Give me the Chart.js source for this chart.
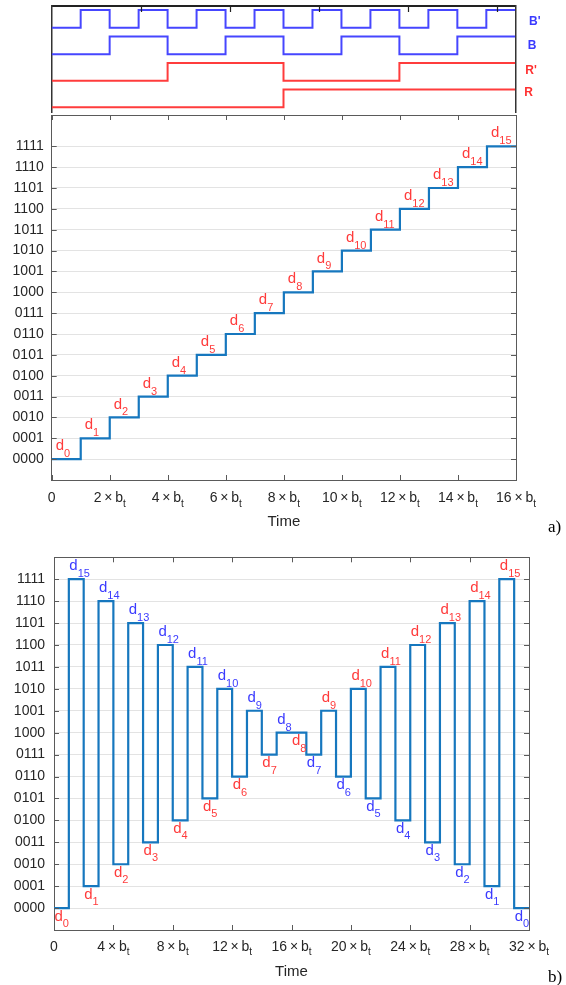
<!DOCTYPE html>
<html>
<head>
<meta charset="utf-8">
<script src="https://cdn.jsdelivr.net/npm/chart.js@4/dist/chart.umd.min.js"></script>
<style>
  body { margin: 0; width: 566px; height: 985px; position: relative; overflow: hidden; background: #fff; }
  canvas { position: absolute; left: 0; }
  .sig { position: absolute; font: bold 12px "Liberation Sans", Arial, sans-serif; line-height: 16px; transform: translateY(-50%); }
  .tag { position: absolute; left: 548px; font: 17px "Liberation Serif", "Times New Roman", serif; line-height: 20px; transform: translateY(-50%); color: #000; }
</style>
</head>
<body>
<canvas id="timing" width="566" height="115" style="top:0"></canvas>
<canvas id="chartA" width="566" height="430" style="top:112px"></canvas>
<canvas id="chartB" width="566" height="445" style="top:540px"></canvas>

<div class="sig" style="left:529px;top:20.7px;color:#3a3aff">B'</div>
<div class="sig" style="left:527.7px;top:45px;color:#3a3aff">B</div>
<div class="sig" style="left:525.3px;top:70px;color:#ff3030">R'</div>
<div class="sig" style="left:524.3px;top:91.7px;color:#ff3030">R</div>
<div class="tag" style="top:527.3px">a)</div>
<div class="tag" style="top:976.7px">b)</div>

<script>
// clock signals, level in each of the 16 b_t intervals
const bitBp = [0, 1, 0, 1, 0, 1, 0, 1, 0, 1, 0, 1, 0, 1, 0, 1];
const bitB  = [0, 0, 1, 1, 0, 0, 1, 1, 0, 0, 1, 1, 0, 0, 1, 1];
const bitRp = [0, 0, 0, 0, 1, 1, 1, 1, 0, 0, 0, 0, 1, 1, 1, 1];
const bitR  = [0, 0, 0, 0, 0, 0, 0, 0, 1, 1, 1, 1, 1, 1, 1, 1];
const timingTopTicks = [1, 2, 3, 4, 5];

// a) code held in each interval
const levelsA = [0, 1, 2, 3, 4, 5, 6, 7, 8, 9, 10, 11, 12, 13, 14, 15];
// b) interleaved up / down sequence
const levelsB = [0, 15, 1, 14, 2, 13, 3, 12, 4, 11, 5, 10, 6, 9, 7, 8,
                 8, 7, 9, 6, 10, 5, 11, 4, 12, 3, 13, 2, 14, 1, 15, 0];

const codeLabels = ["0000", "0001", "0010", "0011", "0100", "0101", "0110", "0111",
                    "1000", "1001", "1010", "1011", "1100", "1101", "1110", "1111"];
const codeTicks = [0, 1, 2, 3, 4, 5, 6, 7, 8, 9, 10, 11, 12, 13, 14, 15];
const ticksA = [0, 2, 4, 6, 8, 10, 12, 14, 16];
const ticksB = [0, 4, 8, 12, 16, 20, 24, 28, 32];

const SANS = '"Liberation Sans", Arial, sans-serif';
const AXIS = "#5a5a5a";
const TEXT = "#262626";
const GRID = "#e3e3e3";
const LINE = "#1677be";
const RED = "#ff3b3b";
const BLUE = "#3b3bff";

Chart.defaults.font.family = SANS;

// held level per interval -> points for a stepped line
const toSteps = (vals, base = 0) =>
  vals.map((v, i) => ({ x: i, y: v + base })).concat([{ x: vals.length, y: vals[vals.length - 1] + base }]);

const fixBox = size => s => {
  if (s.isHorizontal()) s.height = size; else s.width = size;
  s.paddingTop = s.paddingBottom = s.paddingLeft = s.paddingRight = 0;
};
const setTicks = vals => s => { s.ticks = vals.map(v => ({ value: v })); };

// matlab style ticks pointing into the box
function inTicks(axes, len, color, width) {
  return {
    id: "inTicks",
    afterDraw(chart) {
      const { ctx, chartArea: a } = chart;
      ctx.save();
      ctx.strokeStyle = color;
      ctx.lineWidth = width;
      axes.forEach(id => {
        const s = chart.scales[id];
        s.ticks.forEach(t => {
          const p = Math.round(s.getPixelForValue(t.value)) + 0.5;
          ctx.beginPath();
          if (s.position === "bottom") { ctx.moveTo(p, a.bottom); ctx.lineTo(p, a.bottom - len); }
          if (s.position === "top") { ctx.moveTo(p, a.top); ctx.lineTo(p, a.top + len); }
          if (s.position === "left") { ctx.moveTo(a.left, p); ctx.lineTo(a.left + len, p); }
          if (s.position === "right") { ctx.moveTo(a.right, p); ctx.lineTo(a.right - len, p); }
          ctx.stroke();
        });
      });
      ctx.restore();
    }
  };
}

function drawSub(ctx, main, sub, x, y, mainFont, subFont, subDy, center) {
  ctx.font = mainFont;
  const w1 = ctx.measureText(main).width;
  ctx.font = subFont;
  const w2 = ctx.measureText(sub).width;
  const x0 = center ? x - (w1 + w2) / 2 : x;
  ctx.textAlign = "left";
  ctx.font = mainFont;
  ctx.fillText(main, x0, y);
  ctx.font = subFont;
  ctx.fillText(sub, x0 + w1, y + subDy);
}

// "n×b_t" tick labels under the x axis
function timeLabels(dy) {
  return {
    id: "timeLabels",
    afterDraw(chart) {
      const { ctx, chartArea } = chart;
      const s = chart.scales.x;
      ctx.save();
      ctx.fillStyle = TEXT;
      ctx.textBaseline = "middle";
      s.ticks.forEach(t => {
        const x = s.getPixelForValue(t.value);
        const y = chartArea.bottom + dy;
        if (t.value === 0) {
          ctx.font = "14px " + SANS;
          ctx.textAlign = "center";
          ctx.fillText("0", x, y);
        } else {
          drawSub(ctx, t.value + "\u2009\u00d7\u2009b", "t", x, y, "14px " + SANS, "10px " + SANS, 6, true);
        }
      });
      ctx.restore();
    }
  };
}

// d_n labels next to each held level
function dLabels(levels, dx, allAbove, colorOf) {
  return {
    id: "dLabels",
    afterDatasetsDraw(chart) {
      const { ctx } = chart;
      const sx = chart.scales.x, sy = chart.scales.y;
      ctx.save();
      ctx.textBaseline = "middle";
      levels.forEach((v, i) => {
        const above = allAbove || (i > 0 && v > levels[i - 1]);
        const x = sx.getPixelForValue(i) + dx;
        const y = sy.getPixelForValue(v);
        ctx.fillStyle = colorOf(i);
        drawSub(ctx, "d", String(v), x, above ? y - 13 : y + 8.5, "15px " + SANS, "11px " + SANS,
                above ? 8 : 7.5, false);
      });
      ctx.restore();
    }
  };
}

const base = { responsive: false, animation: false, devicePixelRatio: 1, events: [] };
const noLegend = { legend: { display: false }, tooltip: { enabled: false } };
const lineStyle = { stepped: true, pointRadius: 0, fill: false, borderJoinStyle: "miter", borderCapStyle: "butt" };

// timing diagram
const sigBlue = "#4646ff", sigRed = "#ff3c3c";
new Chart(document.getElementById("timing"), {
  type: "line",
  data: {
    datasets: [
      { ...lineStyle, data: toSteps(bitBp, 4.5), borderColor: sigBlue, borderWidth: 2 },
      { ...lineStyle, data: toSteps(bitB, 3), borderColor: sigBlue, borderWidth: 2 },
      { ...lineStyle, data: toSteps(bitRp, 1.5), borderColor: sigRed, borderWidth: 2 },
      { ...lineStyle, data: toSteps(bitR, 0), borderColor: sigRed, borderWidth: 2 }
    ]
  },
  options: {
    ...base,
    layout: { padding: { left: 51.7, top: 6, right: 50.7, bottom: 3 } },
    plugins: noLegend,
    scales: {
      x: { type: "linear", min: 0, max: 16, display: false },
      x2: { type: "linear", position: "top", min: 0, max: 5.2, afterBuildTicks: setTicks(timingTopTicks),
            afterFit: fixBox(0), ticks: { display: false }, grid: { display: false },
            border: { color: "#222", width: 2 } },
      y: { type: "linear", min: -0.27, max: 5.73, afterFit: fixBox(0), ticks: { display: false },
           grid: { display: false }, border: { color: "#333", width: 1.5 } },
      y2: { type: "linear", position: "right", min: -0.27, max: 5.73, afterFit: fixBox(0),
            ticks: { display: false }, grid: { display: false }, border: { color: "#333", width: 1.5 } }
    }
  },
  plugins: [inTicks(["x2"], 6, "#222", 1.2)]
});

function stairChart(id, levels, xTicks, xMax, yMax, cfg) {
  const box = { color: AXIS, width: 1 };
  new Chart(document.getElementById(id), {
    type: "line",
    data: { datasets: [{ ...lineStyle, data: toSteps(levels), borderColor: LINE, borderWidth: 2.2, xAxisID: "x", yAxisID: "y" }] },
    options: {
      ...base,
      layout: { padding: cfg.padding },
      plugins: noLegend,
      scales: {
        x: { type: "linear", min: 0, max: xMax, afterBuildTicks: setTicks(xTicks), afterFit: fixBox(cfg.xHeight),
             ticks: { display: false }, grid: { display: false }, border: box,
             title: { display: true, text: "Time", color: TEXT, font: { size: 15 }, padding: 0 } },
        x2: { type: "linear", position: "top", min: 0, max: xMax, afterBuildTicks: setTicks(xTicks), afterFit: fixBox(0),
              ticks: { display: false }, grid: { display: false }, border: box },
        y: { type: "linear", min: -1, max: yMax, afterBuildTicks: setTicks(codeTicks), afterFit: fixBox(cfg.yWidth),
             ticks: { callback: v => codeLabels[v], color: TEXT, font: { size: 14 }, padding: cfg.labelPad },
             grid: { color: GRID, drawTicks: false }, border: box },
        y2: { type: "linear", position: "right", min: -1, max: yMax, afterBuildTicks: setTicks(codeTicks), afterFit: fixBox(0),
              ticks: { display: false }, grid: { display: false }, border: box }
      }
    },
    plugins: [inTicks(["x", "x2", "y", "y2"], 5, AXIS, 1), timeLabels(cfg.labelDy),
              dLabels(levels, cfg.dx, cfg.allAbove, cfg.colorOf)]
  });
}

stairChart("chartA", levelsA, ticksA, 16, 16.5, {
  padding: { left: 0, top: 3, right: 50, bottom: 11 },
  xHeight: 51, yWidth: 51.7, labelPad: 8, labelDy: 18,
  dx: 4, allAbove: true, colorOf: () => RED
});

stairChart("chartB", levelsB, ticksB, 32, 16, {
  padding: { left: 0, top: 17.3, right: 37, bottom: 4.3 },
  xHeight: 50.7, yWidth: 54, labelPad: 9, labelDy: 16.7,
  dx: 0.5, allAbove: false, colorOf: i => (i % 2 === 0 ? RED : BLUE)
});
</script>
</body>
</html>
